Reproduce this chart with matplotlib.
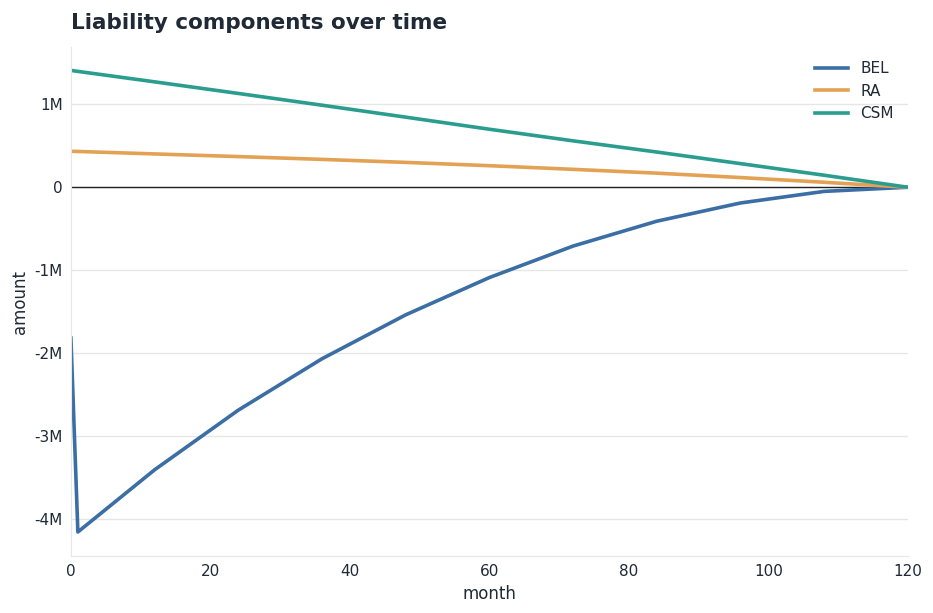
import numpy as np
import matplotlib.pyplot as plt
from matplotlib.ticker import FuncFormatter

## the data
months = [0, 1, 12, 24, 36, 48, 60, 72, 84, 96, 108, 120]
bel = [-1.82e6, -4.16e6, -3.41e6, -2.69e6, -2.07e6, -1.54e6,
       -1.09e6, -0.71e6, -0.41e6, -0.19e6, -0.05e6, 0.0]
ra = [0.434e6, 0.432e6, 0.402e6, 0.370e6, 0.336e6, 0.300e6,
      0.260e6, 0.216e6, 0.170e6, 0.117e6, 0.060e6, 0.0]
csm = [1.41e6, 1.398e6, 1.272e6, 1.132e6, 0.990e6, 0.846e6,
       0.700e6, 0.560e6, 0.425e6, 0.285e6, 0.145e6, 0.0]

text_col = '#1f2a36'

fig = plt.figure(figsize=(9.33, 6.13), dpi=100)
ax = fig.add_axes([0.076, 0.093, 0.897, 0.83])

ax.plot(months, bel, color='#3a6ea5', lw=2.6, label='BEL')
ax.plot(months, ra, color='#e3a253', lw=2.6, label='RA')
ax.plot(months, csm, color='#2a9d8f', lw=2.6, label='CSM')
ax.axhline(0, color='#222222', lw=1, zorder=1)

# axes and labels
ax.set_xlim(0, 120)
ax.set_ylim(-4.45e6, 1.69e6)
ax.set_yticks([-4e6, -3e6, -2e6, -1e6, 0, 1e6])
ax.yaxis.set_major_formatter(FuncFormatter(
    lambda v, p: '0' if v == 0 else '%dM' % round(v / 1e6)))
ax.grid(axis='y', color='#e6e6e6', lw=1)
ax.set_axisbelow(True)
for s in ['top', 'right']:
    ax.spines[s].set_visible(False)
for s in ['left', 'bottom']:
    ax.spines[s].set_color('#e6e6e6')
ax.tick_params(length=0, labelsize=11, colors=text_col, pad=6)
ax.set_xlabel('month', fontsize=12, color=text_col)
ax.set_ylabel('amount', fontsize=12, color=text_col)
ax.set_title('Liability components over time', loc='left', fontsize=15.5,
             fontweight='bold', color=text_col, pad=13)

leg = ax.legend(frameon=False, loc='upper right', fontsize=11,
                handlelength=2.2)
for t in leg.get_texts():
    t.set_color(text_col)

fig.savefig('out.png', dpi=100)
